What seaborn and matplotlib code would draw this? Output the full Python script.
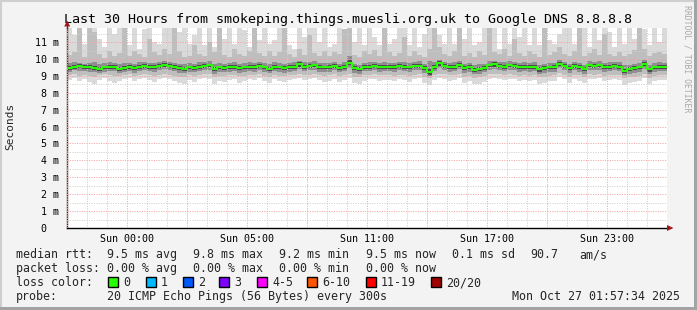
import numpy as np
import pandas as pd
import matplotlib
matplotlib.use("Agg")
import matplotlib.pyplot as plt
import seaborn as sns
from matplotlib.patches import Rectangle, Polygon
from matplotlib.ticker import MultipleLocator, FixedLocator, FixedFormatter

# ---------------- data (ms, one value per 15-minute bin over 30 hours) ----------------
median_rtt = [
    9.45, 9.55, 9.58, 9.55, 9.50, 9.48, 9.42, 9.50, 9.55, 9.52, 9.40, 9.47, 9.52, 9.45, 9.55, 9.60, 9.55, 9.52, 9.58, 9.65,
    9.58, 9.55, 9.45, 9.42, 9.50, 9.48, 9.55, 9.60, 9.62, 9.42, 9.50, 9.48, 9.52, 9.55, 9.45, 9.50, 9.55, 9.52, 9.58, 9.50,
    9.42, 9.55, 9.50, 9.45, 9.52, 9.55, 9.68, 9.55, 9.58, 9.62, 9.52, 9.50, 9.52, 9.60, 9.48, 9.55, 9.78, 9.45, 9.40, 9.55,
    9.55, 9.58, 9.52, 9.55, 9.55, 9.52, 9.58, 9.55, 9.50, 9.58, 9.60, 9.45, 9.22, 9.55, 9.75, 9.60, 9.52, 9.55, 9.65, 9.45,
    9.52, 9.35, 9.40, 9.48, 9.62, 9.68, 9.60, 9.55, 9.62, 9.58, 9.52, 9.55, 9.52, 9.55, 9.38, 9.45, 9.50, 9.52, 9.72, 9.58,
    9.45, 9.58, 9.52, 9.40, 9.62, 9.58, 9.62, 9.52, 9.55, 9.58, 9.55, 9.30, 9.40, 9.45, 9.50, 9.70, 9.38, 9.50, 9.55, 9.55,
]
smoke_max = [
    12, 11.4, 12, 10.9, 12, 12, 11.2, 10.7, 12, 11.5, 12, 12, 10.8, 12, 10.6, 11.8, 12, 11.0, 10.9, 12,
    12, 10.6, 11.6, 12, 10.9, 11.4, 12, 10.8, 12, 10.7, 12, 11.2, 12, 10.9, 12, 11.7, 10.7, 12, 11.1, 12,
    10.9, 11.1, 12, 12, 10.8, 10.6, 12, 11.3, 12, 12, 11.0, 12, 10.7, 10.9, 12, 11.6, 12, 11.0, 12, 10.8,
    12, 11.3, 10.8, 12, 10.9, 11.2, 12, 12, 10.8, 12, 10.7, 11.5, 12, 12, 11.4, 10.9, 12, 10.9, 12, 11.2,
    12, 10.8, 11.0, 12, 11.6, 12, 10.6, 12, 10.9, 12, 11.3, 12, 10.8, 12, 10.8, 12, 11.1, 10.9, 11.5, 12,
    12, 10.9, 11.4, 12, 10.7, 12, 11.1, 12, 11.6, 10.7, 12, 10.9, 12, 11.2, 12, 11.8, 10.8, 12, 11.0, 12,
]
smoke_hi2 = [
    10.25, 10.40, 11.90, 10.10, 12.00, 11.60, 10.30, 10.05, 10.50, 10.20, 10.35, 12.00, 10.15, 10.45, 10.30, 10.10, 11.20, 10.40, 10.25, 10.60,
    10.30, 12.00, 10.50, 10.10, 10.20, 10.80, 10.30, 10.15, 11.00, 10.40, 12.00, 10.25, 10.10, 10.60, 10.30, 10.20, 10.45, 12.00, 10.35, 10.15,
    10.50, 10.20, 10.40, 12.00, 10.30, 10.10, 10.60, 10.25, 11.40, 10.35, 10.20, 10.50, 10.15, 10.40, 10.30, 11.80, 12.00, 10.25, 10.10, 10.45,
    10.30, 10.55, 10.20, 12.00, 10.40, 10.15, 10.35, 11.30, 10.20, 10.50, 10.25, 10.10, 10.60, 12.00, 10.70, 10.30, 10.20, 10.45, 12.00, 10.15,
    10.35, 10.10, 10.50, 10.25, 12.00, 10.40, 10.30, 10.60, 10.20, 11.20, 10.35, 10.15, 10.45, 10.30, 10.10, 12.00, 10.25, 10.40, 10.70, 10.30,
    10.20, 10.45, 12.00, 10.15, 10.35, 10.60, 10.25, 11.50, 10.30, 10.20, 10.40, 10.15, 10.30, 10.55, 12.00, 10.60, 10.20, 10.35, 10.40, 10.30,
]
smoke_hi3 = [
    9.75, 9.80, 9.78, 9.72, 9.76, 9.82, 9.70, 9.74, 9.80, 9.78, 9.68, 9.75, 9.79, 9.72, 9.85, 9.80, 9.76, 9.74, 9.82, 9.88,
    9.80, 9.76, 9.70, 9.68, 9.74, 9.72, 9.80, 9.84, 9.86, 9.70, 9.75, 9.72, 9.78, 9.80, 9.70, 9.76, 9.80, 9.75, 9.82, 9.74,
    9.70, 9.80, 9.76, 9.70, 9.78, 9.80, 9.90, 9.80, 9.82, 9.86, 9.76, 9.74, 9.78, 9.84, 9.72, 9.80, 10.20, 9.72, 9.66, 9.78,
    9.80, 9.82, 9.76, 9.80, 9.78, 9.76, 9.84, 9.80, 9.74, 9.82, 9.86, 9.72, 9.90, 9.80, 9.96, 9.84, 9.76, 9.80, 9.88, 9.70,
    9.76, 9.66, 9.68, 9.72, 9.86, 9.90, 9.84, 9.80, 9.86, 9.82, 9.76, 9.80, 9.76, 9.80, 9.66, 9.70, 9.74, 9.76, 9.94, 9.82,
    9.70, 9.82, 9.76, 9.66, 9.86, 9.82, 9.86, 9.76, 9.80, 9.82, 9.80, 9.62, 9.66, 9.70, 9.74, 9.95, 9.64, 9.74, 9.80, 9.78,
]
smoke_hi4 = [
    9.56, 9.66, 9.68, 9.64, 9.62, 9.58, 9.54, 9.60, 9.66, 9.62, 9.52, 9.58, 9.63, 9.56, 9.66, 9.70, 9.66, 9.62, 9.68, 9.76,
    9.68, 9.66, 9.56, 9.54, 9.60, 9.58, 9.66, 9.70, 9.72, 9.54, 9.61, 9.58, 9.63, 9.66, 9.56, 9.60, 9.66, 9.62, 9.68, 9.60,
    9.54, 9.66, 9.60, 9.56, 9.62, 9.66, 9.80, 9.66, 9.68, 9.72, 9.62, 9.60, 9.63, 9.70, 9.58, 9.66, 9.92, 9.56, 9.52, 9.66,
    9.66, 9.68, 9.62, 9.66, 9.65, 9.62, 9.68, 9.66, 9.60, 9.68, 9.72, 9.56, 9.40, 9.66, 9.86, 9.70, 9.62, 9.66, 9.76, 9.56,
    9.62, 9.46, 9.52, 9.58, 9.72, 9.80, 9.70, 9.66, 9.72, 9.68, 9.62, 9.66, 9.62, 9.66, 9.50, 9.56, 9.60, 9.62, 9.84, 9.68,
    9.56, 9.68, 9.62, 9.52, 9.72, 9.68, 9.72, 9.62, 9.66, 9.68, 9.66, 9.42, 9.52, 9.56, 9.60, 9.82, 9.50, 9.60, 9.66, 9.66,
]
smoke_lo4 = [
    9.34, 9.42, 9.46, 9.42, 9.38, 9.36, 9.30, 9.38, 9.42, 9.40, 9.28, 9.35, 9.40, 9.33, 9.42, 9.48, 9.42, 9.40, 9.46, 9.52,
    9.46, 9.42, 9.33, 9.30, 9.38, 9.36, 9.42, 9.48, 9.50, 9.28, 9.38, 9.36, 9.40, 9.42, 9.32, 9.38, 9.42, 9.40, 9.46, 9.38,
    9.30, 9.42, 9.38, 9.32, 9.40, 9.42, 9.54, 9.42, 9.46, 9.50, 9.40, 9.38, 9.40, 9.48, 9.36, 9.42, 9.62, 9.32, 9.28, 9.42,
    9.42, 9.46, 9.40, 9.42, 9.42, 9.40, 9.46, 9.42, 9.38, 9.46, 9.48, 9.32, 9.08, 9.42, 9.60, 9.48, 9.40, 9.42, 9.52, 9.32,
    9.40, 9.22, 9.28, 9.36, 9.50, 9.54, 9.48, 9.42, 9.50, 9.46, 9.40, 9.42, 9.40, 9.42, 9.26, 9.32, 9.38, 9.40, 9.58, 9.46,
    9.32, 9.46, 9.40, 9.28, 9.50, 9.46, 9.50, 9.40, 9.42, 9.46, 9.42, 9.16, 9.28, 9.32, 9.38, 9.56, 9.26, 9.38, 9.42, 9.42,
]
smoke_lo3 = [
    9.25, 9.32, 9.30, 9.28, 9.26, 9.22, 9.18, 9.25, 9.30, 9.28, 9.15, 9.22, 9.28, 9.20, 9.30, 9.34, 9.30, 9.26, 9.32, 9.38,
    9.32, 9.30, 9.20, 9.16, 9.25, 9.22, 9.30, 9.34, 9.36, 9.14, 9.25, 9.22, 9.26, 9.30, 9.18, 9.24, 9.30, 9.26, 9.32, 9.24,
    9.16, 9.30, 9.24, 9.20, 9.26, 9.30, 9.40, 9.30, 9.32, 9.36, 9.26, 9.24, 9.26, 9.34, 9.22, 9.28, 9.45, 9.18, 9.14, 9.28,
    9.30, 9.32, 9.26, 9.30, 9.28, 9.26, 9.32, 9.30, 9.24, 9.32, 9.34, 9.18, 9.00, 9.28, 9.45, 9.34, 9.26, 9.30, 9.38, 9.18,
    9.26, 9.10, 9.14, 9.22, 9.36, 9.40, 9.34, 9.30, 9.36, 9.32, 9.26, 9.30, 9.26, 9.30, 9.12, 9.18, 9.24, 9.26, 9.44, 9.32,
    9.18, 9.32, 9.26, 9.14, 9.36, 9.32, 9.36, 9.26, 9.30, 9.32, 9.30, 9.05, 9.14, 9.18, 9.24, 9.42, 9.12, 9.24, 9.30, 9.30,
]
smoke_lo2 = [
    9.05, 9.10, 9.02, 9.08, 9.00, 8.95, 9.05, 9.10, 9.04, 8.98, 9.00, 9.06, 9.12, 9.02, 9.08, 9.10, 9.04, 9.00, 9.08, 9.12,
    9.06, 9.02, 8.96, 8.92, 9.04, 9.00, 9.08, 9.12, 9.10, 8.94, 9.02, 9.00, 9.06, 9.08, 8.98, 9.02, 9.08, 9.04, 9.10, 9.02,
    8.96, 9.08, 9.02, 8.98, 9.04, 9.08, 9.12, 9.06, 9.08, 9.10, 9.04, 9.00, 9.04, 9.10, 9.00, 9.06, 9.14, 8.96, 8.92, 9.04,
    9.08, 9.10, 9.04, 9.06, 9.04, 9.02, 9.08, 9.06, 9.00, 9.08, 9.10, 8.96, 8.85, 9.04, 9.14, 9.10, 9.04, 9.06, 9.12, 8.96,
    9.02, 8.90, 8.92, 9.00, 9.10, 9.14, 9.10, 9.06, 9.10, 9.08, 9.02, 9.06, 9.02, 9.06, 8.92, 8.96, 9.00, 9.04, 9.16, 9.08,
    8.96, 9.08, 9.04, 8.94, 9.10, 9.08, 9.12, 9.02, 9.06, 9.08, 9.06, 8.88, 8.92, 8.96, 9.00, 9.14, 8.90, 9.00, 9.06, 9.06,
]
smoke_min = [
    8.75, 8.85, 8.70, 8.80, 8.62, 8.55, 8.78, 8.85, 8.72, 8.60, 8.68, 8.80, 8.88, 8.70, 8.82, 8.86, 8.74, 8.65, 8.80, 8.90,
    8.82, 8.70, 8.58, 8.52, 8.74, 8.66, 8.80, 8.88, 8.84, 8.55, 8.72, 8.64, 8.78, 8.82, 8.60, 8.70, 8.80, 8.74, 8.86, 8.70,
    8.60, 8.82, 8.70, 8.62, 8.74, 8.80, 8.88, 8.76, 8.80, 8.86, 8.74, 8.66, 8.72, 8.84, 8.64, 8.76, 8.90, 8.58, 8.52, 8.72,
    8.80, 8.84, 8.72, 8.76, 8.74, 8.70, 8.80, 8.76, 8.66, 8.80, 8.86, 8.60, 8.45, 8.74, 8.90, 8.84, 8.72, 8.76, 8.86, 8.60,
    8.70, 8.50, 8.55, 8.66, 8.84, 8.90, 8.82, 8.76, 8.84, 8.80, 8.70, 8.76, 8.70, 8.76, 8.52, 8.60, 8.68, 8.72, 8.92, 8.80,
    8.60, 8.80, 8.72, 8.56, 8.84, 8.80, 8.86, 8.70, 8.76, 8.80, 8.76, 8.48, 8.56, 8.62, 8.70, 8.90, 8.52, 8.68, 8.76, 8.76,
]
bin_hours = 0.25

x_tick_hours = [3, 9, 15, 21, 27]
x_tick_labels = ["Sun 00:00", "Sun 05:00", "Sun 11:00", "Sun 17:00", "Sun 23:00"]
y_tick_values = [0, 1, 2, 3, 4, 5, 6, 7, 8, 9, 10, 11]
y_tick_labels = ["0  ", "1 m", "2 m", "3 m", "4 m", "5 m", "6 m", "7 m", "8 m", "9 m", "10 m", "11 m"]

title = "Last 30 Hours from smokeping.things.muesli.org.uk to Google DNS 8.8.8.8"
stat_labels = ["median rtt:", "packet loss:", "loss color:", "probe:"]
rtt_stats = ["9.5 ms avg", "9.8 ms max", "9.2 ms min", "9.5 ms now", "0.1 ms sd", "90.7", "am/s"]
loss_stats = ["0.00 % avg", "0.00 % max", "0.00 % min", "0.00 % now"]
loss_names = ["0", "1", "2", "3", "4-5", "6-10", "11-19", "20/20"]
loss_colors = ["#26ff00", "#00b8ff", "#0059ff", "#7e00ff", "#ff00ff", "#ff5500", "#ff0000", "#a10000"]
probe_text = "20 ICMP Echo Pings (56 Bytes) every 300s"
date_text = "Mon Oct 27 01:57:34 2025"

# ---------------- figure ----------------
sns.set_style("white")
plt.rcParams['font.family'] = ['DejaVu Sans Mono', 'DejaVu Sans']

W, H = 697, 310
BG = '#f3f3f3'
fig = plt.figure(figsize=(W / 100, H / 100), dpi=100, facecolor=BG)


def fx(px):
    return px / W


def fy(py):
    return 1 - py / H


# frame of the image
fig.patches.append(Rectangle((0, 0), 1, 1, transform=fig.transFigure, facecolor='none',
                             edgecolor='#cfcfcf', linewidth=2.2, zorder=0))
fig.patches.append(Rectangle((fx(694), 0), fx(3), 1, transform=fig.transFigure,
                             facecolor='#a3a3a3', edgecolor='none', zorder=1))
fig.patches.append(Rectangle((0, 0), 1, 3 / H, transform=fig.transFigure,
                             facecolor='#a3a3a3', edgecolor='none', zorder=1))

ax = fig.add_axes([fx(67), fy(228), 600 / W, 200 / H])
ax.set_facecolor('white')

n = len(median_rtt)
edges = np.arange(n + 1) * bin_hours


def ext(a):
    a = list(a)
    return np.array(a + [a[-1]])


ax.fill_between(edges, ext(smoke_min), ext(smoke_max), step='post', color='#dadada', linewidth=0, zorder=1)
ax.fill_between(edges, ext(smoke_lo2), ext(smoke_hi2), step='post', color='#bebebe', linewidth=0, zorder=1.1)
ax.fill_between(edges, ext(smoke_lo3), ext(smoke_hi3), step='post', color='#8e8e8e', linewidth=0, zorder=1.2)
ax.fill_between(edges, ext(smoke_lo4), ext(smoke_hi4), step='post', color='#4c4c4c', linewidth=0, zorder=1.3)

df = pd.DataFrame({"hour": edges, "rtt": ext(median_rtt)})
sns.lineplot(data=df, x="hour", y="rtt", drawstyle='steps-post', color='#26ff00',
             linewidth=1.4, ax=ax, zorder=3)

ax.set_xlim(0, 30)
ax.set_ylim(0, 11.834)
ax.set_xlabel("")
ax.set_ylabel("")

# grid
ax.set_axisbelow(False)
ax.xaxis.set_major_locator(FixedLocator(x_tick_hours))
ax.xaxis.set_major_formatter(FixedFormatter(x_tick_labels))
ax.xaxis.set_minor_locator(MultipleLocator(1))
ax.yaxis.set_major_locator(FixedLocator(y_tick_values))
ax.yaxis.set_major_formatter(FixedFormatter(y_tick_labels))
ax.yaxis.set_minor_locator(MultipleLocator(0.5))
dots = (0, (1.0, 1.4))
ax.grid(which='minor', color='#cccccc', linewidth=0.72, linestyle=dots)
ax.yaxis.grid(which='major', color='#f2a2a2', linewidth=0.72, linestyle=dots)
ax.xaxis.grid(which='major', visible=False)
for xv in np.arange(3, 30, 3):
    ax.axvline(xv, color='#f2a2a2', linewidth=0.72, linestyle=dots, zorder=2.5)

ax.tick_params(axis='x', which='major', length=0, pad=4, labelsize=7.2, colors='#000000')
ax.tick_params(axis='y', which='major', length=0, pad=5.6, labelsize=7.2, colors='#000000')
ax.tick_params(which='minor', length=0)

for s in ['top', 'right']:
    ax.spines[s].set_visible(False)
ax.spines['left'].set_color('#5a2424')
ax.spines['left'].set_linewidth(1.0)
ax.spines['bottom'].set_color('#000000')
ax.spines['bottom'].set_linewidth(1.0)

# axis arrows
fig.patches.append(Polygon([(fx(64.2), fy(26.5)), (fx(70.2), fy(26.5)), (fx(67.2), fy(20.5))],
                           closed=True, transform=fig.transFigure, facecolor='#a01818',
                           edgecolor='none', zorder=5))
fig.lines.append(plt.Line2D([fx(67.2), fx(67.2)], [fy(28), fy(26)], transform=fig.transFigure,
                            color='#5a2424', linewidth=1.0))
fig.patches.append(Polygon([(fx(667), fy(225)), (fx(667), fy(231)), (fx(673.5), fy(228))],
                           closed=True, transform=fig.transFigure, facecolor='#a01818',
                           edgecolor='none', zorder=5))

# texts
fig.text(0.5, fy(23), title, ha='center', va='baseline', fontsize=9.6, color='#000000')
fig.text(fx(10), fy(126), "Seconds", rotation=90, ha='center', va='center', fontsize=8.0)
fig.text(fx(687.5), fy(5), "RRDTOOL / TOBI OETIKER", rotation=270, ha='center', va='top',
         fontsize=5.9, color='#a8a8a8')

FS = 8.4
row_y = [258, 272, 286, 300]
for lab, yy in zip(stat_labels, row_y):
    fig.text(fx(16), fy(yy), lab, ha='left', va='baseline', fontsize=FS)

rtt_x = [107, 193, 279, 366, 452, 530, 579]
for t, xx in zip(rtt_stats, rtt_x):
    fig.text(fx(xx), fy(258), t, ha='left', va='baseline', fontsize=FS)
for t, xx in zip(loss_stats, rtt_x[:4]):
    fig.text(fx(xx), fy(272), t, ha='left', va='baseline', fontsize=FS)

sq_x = [108, 146, 183, 219, 257, 307, 366, 431]
for name, col, xx in zip(loss_names, loss_colors, sq_x):
    fig.patches.append(Rectangle((fx(xx), fy(287)), 10 / W, 10 / H, transform=fig.transFigure,
                                 facecolor=col, edgecolor='#000000', linewidth=1.0, zorder=5))
    fig.text(fx(xx + 15), fy(286), name, ha='left', va='baseline', fontsize=FS)

fig.text(fx(107), fy(300), probe_text, ha='left', va='baseline', fontsize=FS)
fig.text(fx(680), fy(300), date_text, ha='right', va='baseline', fontsize=FS)

fig.savefig("out.png", dpi=100, facecolor=BG)
